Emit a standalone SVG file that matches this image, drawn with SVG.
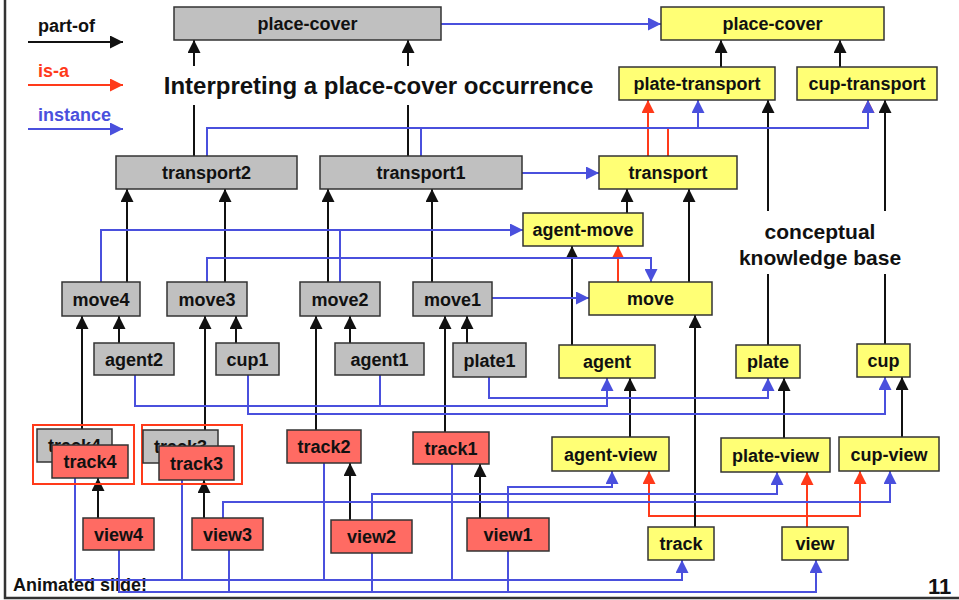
<svg xmlns="http://www.w3.org/2000/svg" width="959" height="600" viewBox="0 0 959 600">
<defs>
<style>
text{font-family:"Liberation Sans",Arial,sans-serif;font-weight:bold;font-size:18px;fill:#111}
.n text{text-anchor:middle}
.g rect{fill:#c0c0c0;stroke:#333;stroke-width:1.5}
.y rect{fill:#ffff75;stroke:#333;stroke-width:1.5}
.r rect{fill:#ff6b63;stroke:#333;stroke-width:1.5}
.grp{fill:none;stroke:#ff3a1a;stroke-width:2}
.k{fill:none;stroke:#111;stroke-width:2}
.rd{fill:none;stroke:#ff3a1a;stroke-width:2}
.b{fill:none;stroke:#4a50dd;stroke-width:2}
.ka{marker-end:url(#mk)}
.ra{marker-end:url(#mr)}
.ba{marker-end:url(#mb)}
</style>
<marker id="mk" markerUnits="userSpaceOnUse" markerWidth="13" markerHeight="13" refX="13" refY="6.5" orient="auto"><path d="M0,0L13,6.5L0,13z" fill="#111"/></marker>
<marker id="mr" markerUnits="userSpaceOnUse" markerWidth="13" markerHeight="13" refX="13" refY="6.5" orient="auto"><path d="M0,0L13,6.5L0,13z" fill="#ff3a1a"/></marker>
<marker id="mb" markerUnits="userSpaceOnUse" markerWidth="13" markerHeight="13" refX="13" refY="6.5" orient="auto"><path d="M0,0L13,6.5L0,13z" fill="#4a50dd"/></marker>
</defs>
<rect width="959" height="600" fill="#fff"/>
<path d="M5,0V598H959" fill="none" stroke="#333" stroke-width="2.5"/>

<g id="legend">
<text x="38" y="32">part-of</text>
<path class="k ka" d="M28,42H123"/>
<text x="38" y="77" style="fill:#ff3a1a">is-a</text>
<path class="rd ra" d="M28,85H123"/>
<text x="38" y="121" style="fill:#4a50dd">instance</text>
<path class="b ba" d="M28,129H123"/>
</g>

<text x="378.5" y="94" style="font-size:24px;text-anchor:middle">Interpreting a place-cover occurrence</text>
<text x="820" y="239" style="font-size:21px;text-anchor:middle">conceptual</text>
<text x="820" y="265" style="font-size:21px;text-anchor:middle">knowledge base</text>
<text x="13" y="591">Animated slide!</text>
<text x="928" y="594" style="font-size:22px">11</text>

<g id="connectors">
<!-- red is-a (under blue) -->
<path class="rd ra" d="M648,156V100"/>
<path class="rd ra" d="M668,156V128H868V100"/>
<path class="rd ra" d="M618,282V246"/>
<path class="rd ra" d="M807,527V472"/>
<path class="rd ra" d="M807,516H649V471"/>
<path class="rd ra" d="M807,516H860V471"/>
<!-- black part-of -->
<path class="k ka" d="M194,66V40"/><path class="k" d="M194,105V156"/>
<path class="k ka" d="M408,66V40"/><path class="k" d="M408,105V156"/>
<path class="k ka" d="M127,282V189"/>
<path class="k ka" d="M225,282V189"/>
<path class="k ka" d="M328,282V189"/>
<path class="k ka" d="M432,282V189"/>
<path class="k ka" d="M119,343V316"/>
<path class="k ka" d="M82,429V316"/>
<path class="k ka" d="M236,343V316"/>
<path class="k ka" d="M205,430V316"/>
<path class="k ka" d="M350,343V316"/>
<path class="k ka" d="M316,430V316"/>
<path class="k ka" d="M467,343V316"/>
<path class="k ka" d="M445,432V316"/>
<path class="k ka" d="M98,518V478"/>
<path class="k ka" d="M204,518V480"/>
<path class="k ka" d="M350,520V463"/>
<path class="k ka" d="M480,518V464"/>
<path class="k ka" d="M721,67V40"/>
<path class="k ka" d="M840,67V40"/>
<path class="k ka" d="M689,282V189"/>
<path class="k ka" d="M627,213V189"/>
<path class="k ka" d="M572,345V246"/>
<path class="k ka" d="M695,527V315"/>
<path class="k ka" d="M768,211V100"/><path class="k" d="M768,274V345"/>
<path class="k ka" d="M885,211V100"/><path class="k" d="M885,274V344"/>
<path class="k ka" d="M630,437V378"/>
<path class="k ka" d="M784,438V378"/>
<path class="k ka" d="M902,437V377"/>
<!-- blue instance -->
<path class="b ba" d="M441,24H661"/>
<path class="b ba" d="M522,173H599"/>
<path class="b ba" d="M207,156V128H868V100"/>
<path class="b ba" d="M421,156V128H698V100"/>
<path class="b ba" d="M101,282V230H523"/>
<path class="b" d="M340,282V230"/>
<path class="b ba" d="M207,282V258H651V282"/>
<path class="b ba" d="M492,298H589"/>
<path class="b ba" d="M135,375V406H607V378"/>
<path class="b" d="M380,375V406"/>
<path class="b ba" d="M248,375V414H885V377"/>
<path class="b ba" d="M489,377V398H768V378"/>
<path class="b ba" d="M508,518V487H612V471"/>
<path class="b ba" d="M372,520V494H777V472"/>
<path class="b ba" d="M223,518V502H890V471"/>
<path class="b ba" d="M75,478V580H682V560"/>
<path class="b" d="M182,480V580M324,463V580M452,464V580"/>
<path class="b ba" d="M119,550V592H816V560"/>
<path class="b" d="M229,550V592M372,553V592M508,551V592"/>
</g>

<g id="pc_g" class="n g"><rect x="174" y="7" width="267" height="33"/><text x="307.5" y="30">place-cover</text></g>
<g id="transport2" class="n g"><rect x="116" y="156" width="181" height="33"/><text x="206.5" y="179">transport2</text></g>
<g id="transport1" class="n g"><rect x="320" y="156" width="202" height="33"/><text x="421" y="179">transport1</text></g>
<g id="move4" class="n g"><rect x="62" y="282" width="78" height="34"/><text x="101" y="305.5">move4</text></g>
<g id="move3" class="n g"><rect x="167" y="282" width="80" height="34"/><text x="207" y="305.5">move3</text></g>
<g id="move2" class="n g"><rect x="300" y="282" width="80" height="34"/><text x="340" y="305.5">move2</text></g>
<g id="move1" class="n g"><rect x="413" y="282" width="79" height="34"/><text x="452.5" y="305.5">move1</text></g>
<g id="agent2" class="n g"><rect x="94" y="343" width="80" height="32"/><text x="134" y="365.5">agent2</text></g>
<g id="cup1" class="n g"><rect x="216" y="343" width="63" height="32"/><text x="247.5" y="365.5">cup1</text></g>
<g id="agent1" class="n g"><rect x="335" y="343" width="89" height="32"/><text x="379.5" y="365.5">agent1</text></g>
<g id="plate1" class="n g"><rect x="453" y="343" width="73" height="34"/><text x="489.5" y="366.5">plate1</text></g>

<g id="track4grp" class="n">
<rect class="grp" x="33" y="425" width="101" height="59"/>
<g class="g"><rect x="37" y="429" width="75" height="33"/><text x="74.5" y="452">track4</text></g>
<g class="r"><rect x="52" y="445" width="76" height="33"/><text x="90" y="468">track4</text></g>
</g>
<g id="track3grp" class="n">
<rect class="grp" x="142" y="425" width="100" height="59"/>
<g class="g"><rect x="143" y="430" width="75" height="33"/><text x="180.5" y="453">track3</text></g>
<g class="r"><rect x="159" y="446" width="75" height="34"/><text x="196.5" y="469.5">track3</text></g>
</g>
<g id="track2" class="n r"><rect x="287" y="430" width="74" height="33"/><text x="324" y="453">track2</text></g>
<g id="track1" class="n r"><rect x="413" y="432" width="76" height="32"/><text x="451" y="454.5">track1</text></g>
<g id="view4" class="n r"><rect x="83" y="518" width="71" height="32"/><text x="118.5" y="540.5">view4</text></g>
<g id="view3" class="n r"><rect x="192" y="518" width="71" height="32"/><text x="227.5" y="540.5">view3</text></g>
<g id="view2" class="n r"><rect x="331" y="520" width="81" height="33"/><text x="371.5" y="543">view2</text></g>
<g id="view1" class="n r"><rect x="467" y="518" width="82" height="33"/><text x="508" y="541">view1</text></g>

<g id="pc_y" class="n y"><rect x="661" y="7" width="223" height="33"/><text x="772.5" y="30">place-cover</text></g>
<g id="plate-transport" class="n y"><rect x="619" y="67" width="156" height="33"/><text x="697" y="90">plate-transport</text></g>
<g id="cup-transport" class="n y"><rect x="797" y="67" width="140" height="33"/><text x="867" y="90">cup-transport</text></g>
<g id="transport" class="n y"><rect x="599" y="156" width="138" height="33"/><text x="668" y="179">transport</text></g>
<g id="agent-move" class="n y"><rect x="523" y="213" width="120" height="33"/><text x="583" y="236">agent-move</text></g>
<g id="move" class="n y"><rect x="589" y="282" width="123" height="33"/><text x="650.5" y="305">move</text></g>
<g id="agent" class="n y"><rect x="559" y="345" width="96" height="33"/><text x="607" y="368">agent</text></g>
<g id="plate" class="n y"><rect x="736" y="345" width="64" height="33"/><text x="768" y="368">plate</text></g>
<g id="cup" class="n y"><rect x="857" y="344" width="53" height="33"/><text x="883.5" y="367">cup</text></g>
<g id="agent-view" class="n y"><rect x="552" y="437" width="117" height="34"/><text x="610.5" y="460.5">agent-view</text></g>
<g id="plate-view" class="n y"><rect x="721" y="438" width="109" height="34"/><text x="775.5" y="461.5">plate-view</text></g>
<g id="cup-view" class="n y"><rect x="839" y="437" width="100" height="34"/><text x="889" y="460.5">cup-view</text></g>
<g id="track" class="n y"><rect x="648" y="527" width="66" height="33"/><text x="681" y="550">track</text></g>
<g id="view" class="n y"><rect x="782" y="527" width="66" height="33"/><text x="815" y="550">view</text></g>
</svg>
